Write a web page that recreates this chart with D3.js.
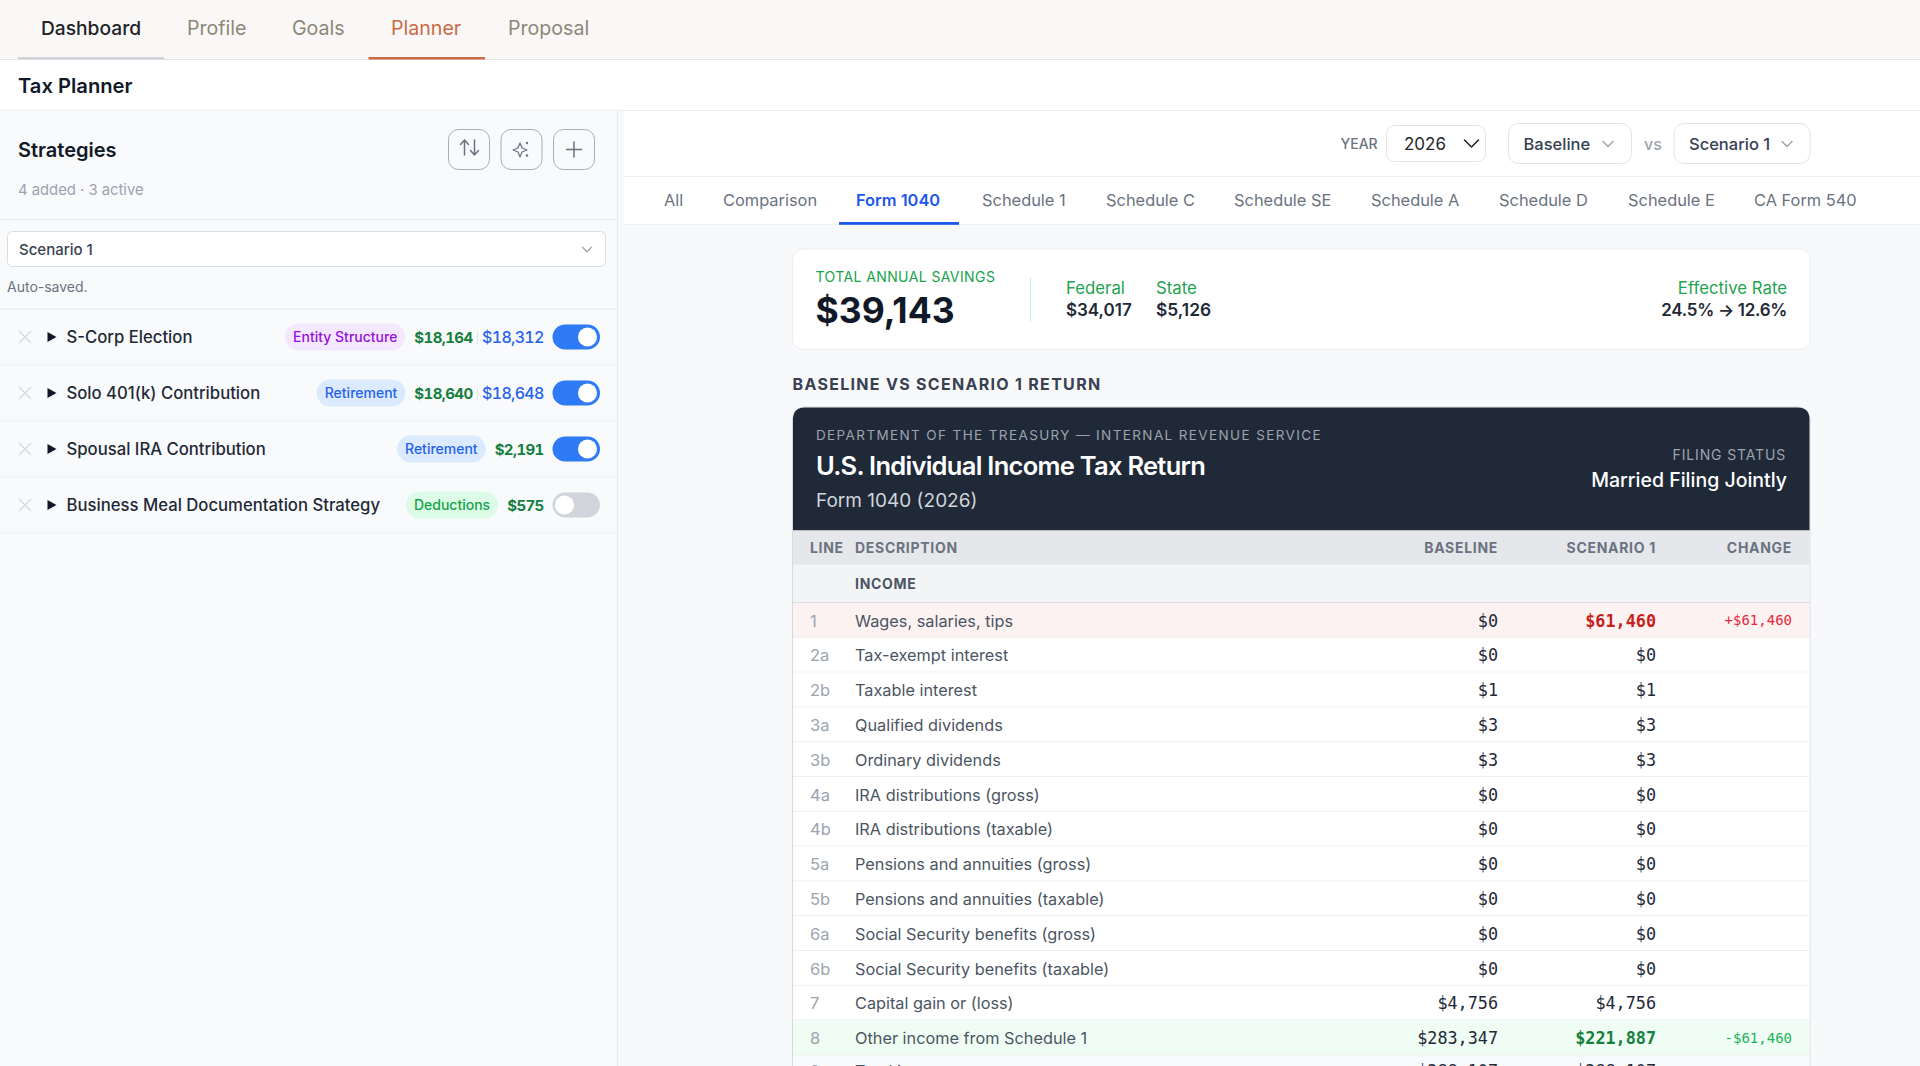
<!DOCTYPE html>
<html>
<head>
<meta charset="utf-8">
<script src="https://cdn.jsdelivr.net/npm/d3@7"></script>
<style>
  html, body { margin: 0; padding: 0; background: #f9fafb; overflow: hidden; }
  svg { display: block; }
  text { font-family: Inter, "Noto Sans", sans-serif; }
  .mono { font-family: "DejaVu Sans Mono", "Liberation Mono", monospace; }
  .amount { font-variant-numeric: tabular-nums; }
</style>
</head>
<body>
<svg id="page" width="1920" height="1066"></svg>
<script>
const navTabs = ['Dashboard', 'Profile', 'Goals', 'Planner', 'Proposal'];
const navTabX = [41, 187, 292, 391, 508];
const formTabs = ['All', 'Comparison', 'Form 1040', 'Schedule 1', 'Schedule C', 'Schedule SE', 'Schedule A', 'Schedule D', 'Schedule E', 'CA Form 540'];
const formTabX = [664, 723, 856, 982, 1106, 1234, 1371, 1499, 1628, 1754];

const strategyNames = ['S-Corp Election', 'Solo 401(k) Contribution', 'Spousal IRA Contribution', 'Business Meal Documentation Strategy'];
const strategyTags = ['Entity Structure', 'Retirement', 'Retirement', 'Deductions'];
const strategyFederal = ['$18,164', '$18,640', '$2,191', '$575'];
const strategyState = ['$18,312', '$18,648', '', ''];
const strategyOn = [true, true, true, false];

const lineNumbers = ['1', '2a', '2b', '3a', '3b', '4a', '4b', '5a', '5b', '6a', '6b', '7', '8', '9'];
const lineNames = ['Wages, salaries, tips', 'Tax-exempt interest', 'Taxable interest', 'Qualified dividends', 'Ordinary dividends',
  'IRA distributions (gross)', 'IRA distributions (taxable)', 'Pensions and annuities (gross)', 'Pensions and annuities (taxable)',
  'Social Security benefits (gross)', 'Social Security benefits (taxable)', 'Capital gain or (loss)', 'Other income from Schedule 1', 'Total income'];
const baselineValues = [0, 0, 1, 3, 3, 0, 0, 0, 0, 0, 0, 4756, 283347, 288107];
const scenarioValues = [61460, 0, 1, 3, 3, 0, 0, 0, 0, 0, 0, 4756, 221887, 288107];

const money = d3.format('$,');
const signedMoney = v => (v > 0 ? '+' : '-') + money(Math.abs(v));

const tagStyles = {
  'Entity Structure': { bg: '#f3e8ff', fg: '#9810e0' },
  'Retirement': { bg: '#dbeafe', fg: '#2563eb' },
  'Deductions': { bg: '#dcfce7', fg: '#16a34a' }
};

const svg = d3.select('#page');

const addRect = (x, y, w, h, fill, opts = {}) =>
  svg.append('rect')
    .attr('x', x).attr('y', y).attr('width', w).attr('height', h)
    .attr('rx', opts.r || 0)
    .attr('fill', fill)
    .attr('stroke', opts.stroke || 'none')
    .attr('stroke-width', opts.sw || 1);

const addText = (x, y, str, size, fill, opts = {}) =>
  svg.append('text')
    .attr('x', x).attr('y', y)
    .attr('font-size', size)
    .attr('font-weight', opts.weight || 400)
    .attr('letter-spacing', opts.spacing || 0)
    .attr('text-anchor', opts.anchor || 'start')
    .attr('class', opts.cls || null)
    .attr('fill', fill)
    .text(str);

const addPath = (d, stroke, sw, fill = 'none') =>
  svg.append('path').attr('d', d).attr('stroke', stroke).attr('stroke-width', sw)
    .attr('fill', fill).attr('stroke-linecap', 'round').attr('stroke-linejoin', 'round');

const chevron = (cx, cy, w, stroke, sw) =>
  addPath(`M${cx - w / 2},${cy - w / 4}L${cx},${cy + w / 4}L${cx + w / 2},${cy - w / 4}`, stroke, sw);

const drawNav = () => {
  addRect(0, 0, 1920, 60, '#f9f8f6');
  addRect(0, 59, 1920, 1, '#e7e5e1');
  addRect(18, 57, 146, 2.5, '#d1d5db');
  addRect(368.5, 57, 116.5, 2.5, '#c96a45');
  svg.selectAll('.nav-tab').data(navTabs).enter().append('text')
    .attr('class', 'nav-tab')
    .attr('x', (d, i) => navTabX[i]).attr('y', 35)
    .attr('font-size', (d, i) => (i === 0 ? 19.2 : 19.6)).attr('font-weight', (d, i) => (i === 0 ? 500 : 400))
    .attr('fill', (d, i) => (i === 0 ? '#1f2328' : i === 3 ? '#c96a45' : '#8c8778'))
    .text(d => d);
  addRect(0, 60, 1920, 50, '#ffffff');
  addRect(0, 110, 1920, 1, '#eeeff2');
  addText(18, 93, 'Tax Planner', 20.2, '#111827', { weight: 600 });
};

const drawSidebar = () => {
  addRect(617, 111, 1, 955, '#e8eaed');
  addText(18, 157, 'Strategies', 20, '#111827', { weight: 600 });
  [[448.5, 41], [501, 41], [553.5, 41]].forEach(([x, w]) =>
    addRect(x, 129.5, w, 40, '#f9fafb', { r: 10, stroke: '#a8adb7', sw: 1 }));
  // sort arrows
  addPath('M464.5,155V140M460.5,144.5L464.5,140L468.5,144.5', '#6b7280', 1.5);
  addPath('M474.5,140V155M470.5,150.5L474.5,155L478.5,150.5', '#6b7280', 1.5);
  // sparkle
  addPath('M520,143L522,148L527,150L522,152L520,157L518,152L513,150L518,148Z', '#6b7280', 1.2);
  svg.append('circle').attr('cx', 527).attr('cy', 143).attr('r', 1.2).attr('fill', '#6b7280');
  svg.append('circle').attr('cx', 527).attr('cy', 155.5).attr('r', 1.2).attr('fill', '#6b7280');
  // plus
  addPath('M574,142V157M566.5,149.5H581.5', '#6b7280', 1.5);
  addText(18, 195, '4 added · 3 active', 14.8, '#9ca3af');
  addRect(0, 219, 617, 1, '#e8eaed');
  addRect(7.5, 231.5, 598, 35, '#ffffff', { r: 5, stroke: '#d9dce1' });
  addText(19, 255, 'Scenario 1', 15, '#374151', { weight: 500 });
  chevron(587, 249.5, 9, '#9ca3af', 1.3);
  addText(7, 292, 'Auto-saved.', 14, '#6b7280');
  addRect(0, 308, 617, 2, '#f0f1f3');

  const rowY = d3.scaleLinear().domain([0, 1]).range([337, 393]);
  const rows = svg.selectAll('.strategy').data(strategyNames).enter().append('g')
    .attr('class', 'strategy')
    .attr('transform', (d, i) => `translate(0,${rowY(i)})`);

  rows.append('line').attr('x1', 0).attr('x2', 617).attr('y1', 28).attr('y2', 28).attr('stroke', '#f0f1f3');
  rows.append('path').attr('d', 'M-6,-6L6,6M6,-6L-6,6').attr('transform', 'translate(25,0)')
    .attr('stroke', '#d8dade').attr('stroke-width', 1.4).attr('fill', 'none');
  rows.append('path').attr('d', 'M47.5,-5L56.5,0L47.5,5Z').attr('fill', '#111827');
  rows.append('text').attr('x', 66.5).attr('y', 6).attr('font-size', 16.7).attr('font-weight', 500)
    .attr('fill', '#1f2937').text(d => d);

  rows.each(function (d, i) {
    const row = d3.select(this);
    const state = strategyState[i];
    const on = strategyOn[i];
    // toggle
    row.append('rect').attr('x', 552.5).attr('y', -12.5).attr('width', 47.5).attr('height', 25).attr('rx', 12.5)
      .attr('fill', on ? '#2f7bf6' : '#d1d5db');
    row.append('circle').attr('cx', on ? 587.5 : 564.5).attr('cy', 0).attr('r', 9.5).attr('fill', '#ffffff');
    // amounts, right to left
    let right = 543.7;
    if (state) {
      row.append('text').attr('class', 'amount').attr('x', right).attr('y', 6).attr('text-anchor', 'end').attr('font-size', 16)
        .attr('letter-spacing', -0.7).attr('font-weight', 500).attr('fill', '#2563eb').text(state);
      row.append('line').attr('x1', 477.5).attr('x2', 477.5).attr('y1', -6).attr('y2', 7).attr('stroke', '#e5e7eb');
      right = 472.5;
    }
    const fed = row.append('text').attr('class', 'amount').attr('x', right).attr('y', 6).attr('text-anchor', 'end').attr('font-size', 15)
      .attr('letter-spacing', -0.6).attr('font-weight', 700).attr('fill', '#15803d').text(strategyFederal[i]);
    const fedLeft = right - fed.node().getComputedTextLength();
    // tag pill
    const tag = strategyTags[i];
    const style = tagStyles[tag];
    const label = row.append('text').attr('y', 5).attr('font-size', 14).attr('font-weight', 500)
      .attr('fill', style.fg).text(tag);
    const pillW = label.node().getComputedTextLength() + 16;
    const pillRight = fedLeft - 9;
    row.insert('rect', 'text').attr('x', pillRight - pillW).attr('y', -13.5).attr('width', pillW).attr('height', 27)
      .attr('rx', 13.5).attr('fill', style.bg);
    label.attr('x', pillRight - pillW + 8);
  });
};

const drawToolbar = () => {
  addRect(624, 111, 1296, 114, '#ffffff');
  addRect(618, 111, 6, 955, '#f8f9fb');
  addRect(624, 225, 1296, 841, '#f8f9fb');
  addRect(624, 176, 1296, 1, '#eceef1');
  addRect(624, 224, 1296, 1, '#eff0f3');

  addText(1340.5, 149, 'YEAR', 14, '#6b7280', { weight: 500 });
  addRect(1386.5, 125.5, 99, 36, '#ffffff', { r: 8, stroke: '#e3e5e9' });
  addText(1404, 150, '2026', 17, '#27272a');
  chevron(1471.5, 143.5, 14, '#27272a', 1.6);
  addRect(1508.5, 123.5, 123, 40, '#ffffff', { r: 10, stroke: '#e3e5e9' });
  addText(1523.5, 149.5, 'Baseline', 16.5, '#374151', { weight: 500 });
  chevron(1608, 144, 10, '#9ca3af', 1.4);
  addText(1644, 149.5, 'vs', 16, '#9ca3af', { weight: 500 });
  addRect(1674, 123.5, 136, 40, '#ffffff', { r: 10, stroke: '#e3e5e9' });
  addText(1689, 149.5, 'Scenario 1', 16.5, '#374151', { weight: 500 });
  chevron(1787, 144, 10, '#9ca3af', 1.4);

  svg.selectAll('.form-tab').data(formTabs).enter().append('text')
    .attr('class', 'form-tab')
    .attr('x', (d, i) => formTabX[i]).attr('y', 205.5)
    .attr('font-size', 16.4).attr('font-weight', (d, i) => (i === 2 ? 600 : 400))
    .attr('fill', (d, i) => (i === 2 ? '#1d58e8' : '#6b7280'))
    .text(d => d);
  addRect(839, 222, 120, 2.8, '#1d58e8');
};

const drawSavings = () => {
  addRect(792.5, 249, 1017.5, 100.5, '#ffffff', { r: 10, stroke: '#ebedf0' });
  addText(815.5, 281.5, 'TOTAL ANNUAL SAVINGS', 14, '#16a34a', { spacing: 0.4 });
  addText(815.5, 323, '$39,143', 35.5, '#111827', { weight: 700 });
  addRect(1030, 277, 1, 45, '#bbf7d0');
  addText(1066, 294, 'Federal', 16.8, '#1fa34f');
  addText(1066, 316, '$34,017', 17, '#1f2937', { weight: 600 });
  addText(1156, 294, 'State', 16.8, '#1fa34f');
  addText(1156, 316, '$5,126', 17.4, '#1f2937', { weight: 600 });
  addText(1787, 294, 'Effective Rate', 16.8, '#1fa34f', { anchor: 'end' });
  addText(1787, 316, '24.5% → 12.6%', 17, '#1f2937', { weight: 600, anchor: 'end', spacing: -0.3 });
  addText(792.5, 390, 'BASELINE VS SCENARIO 1 RETURN', 16, '#374151', { weight: 700, spacing: 1.3 });
};

const drawReturn = () => {
  const left = 793, right = 1809.5, top = 407.5;
  const x = { line: 810, desc: 855, base: 1498, scen: 1656, change: 1792 };
  addRect(left - 0.5, top - 0.5, right - left + 1, 700, '#ffffff', { r: 12, stroke: '#d6d9de' });
  svg.append('path')
    .attr('d', `M${left},530.5V${top + 12}Q${left},${top} ${left + 12},${top}H${right - 12}Q${right},${top} ${right},${top + 12}V530.5Z`)
    .attr('fill', '#1f2937');
  addText(816, 440, 'DEPARTMENT OF THE TREASURY — INTERNAL REVENUE SERVICE', 13.5, '#9ca3af', { spacing: 1.38 });
  addText(816, 474.5, 'U.S. Individual Income Tax Return', 25.5, '#ffffff', { weight: 600, spacing: -0.72 });
  addText(816, 506.5, 'Form 1040 (2026)', 19, '#d1d5db');
  addText(1786, 460, 'FILING STATUS', 14, '#9ca3af', { anchor: 'end', spacing: 0.85 });
  addText(1787, 487, 'Married Filing Jointly', 19.5, '#ffffff', { anchor: 'end', weight: 500 });

  addRect(left, 530.5, right - left, 33, '#e5e7eb');
  addRect(left, 563.5, right - left, 1, '#d1d5db');
  const head = { weight: 700, spacing: 0.7 };
  addText(x.line, 552.5, 'LINE', 14, '#6b7280', head);
  addText(x.desc, 552.5, 'DESCRIPTION', 14, '#6b7280', head);
  addText(x.base, 552.5, 'BASELINE', 14, '#6b7280', { ...head, anchor: 'end' });
  addText(x.scen, 552.5, 'SCENARIO 1', 14, '#6b7280', { ...head, anchor: 'end' });
  addText(x.change, 552.5, 'CHANGE', 14, '#6b7280', { ...head, anchor: 'end' });

  addRect(left, 564.5, right - left, 38, '#f3f4f6');
  addRect(left, 602, right - left, 1, '#d9dce1');
  addText(x.desc, 588.5, 'INCOME', 14, '#4b5563', head);

  const rowTop = d3.scaleLinear().domain([0, 12]).range([603, 1020.6]);
  const rowH = rowTop(1) - rowTop(0);
  const rows = svg.selectAll('.form-row').data(lineNumbers).enter().append('g')
    .attr('class', 'form-row')
    .attr('transform', (d, i) => `translate(0,${rowTop(i)})`);

  const delta = i => scenarioValues[i] - baselineValues[i];
  const total = i => lineNumbers[i] === '9';
  const base = i => rowH / 2 + (total(i) ? 4 : 6.3);

  rows.append('rect').attr('x', left).attr('width', right - left).attr('height', rowH)
    .attr('fill', (d, i) => (total(i) ? '#f9fafb' : delta(i) > 0 ? '#fdf2f2' : delta(i) < 0 ? '#f0fdf4' : '#ffffff'));
  rows.append('line').attr('x1', left).attr('x2', right).attr('y1', rowH - 0.5).attr('y2', rowH - 0.5)
    .attr('stroke', '#eceef1');
  rows.append('text').attr('x', x.line).attr('y', (d, i) => base(i)).attr('font-size', 16.5).attr('fill', '#9ca3af').text(d => d);
  rows.append('text').attr('x', x.desc).attr('y', (d, i) => base(i)).attr('font-size', 16.3).attr('fill', '#4b5563')
    .text((d, i) => lineNames[i]);
  rows.append('text').attr('class', 'mono').attr('x', x.base).attr('y', (d, i) => base(i)).attr('text-anchor', 'end')
    .attr('font-size', 16.8).attr('fill', '#1f2937').text((d, i) => money(baselineValues[i]));
  rows.append('text').attr('class', 'mono').attr('x', x.scen).attr('y', (d, i) => base(i)).attr('text-anchor', 'end')
    .attr('font-size', 16.8)
    .attr('font-weight', (d, i) => (delta(i) !== 0 ? 700 : 400))
    .attr('fill', (d, i) => (delta(i) > 0 ? '#c81e1e' : delta(i) < 0 ? '#15803d' : '#1f2937'))
    .text((d, i) => money(scenarioValues[i]));
  rows.append('text').attr('class', 'mono').attr('x', x.change).attr('y', rowH / 2 + 5).attr('text-anchor', 'end')
    .attr('font-size', 14)
    .attr('fill', (d, i) => (delta(i) > 0 ? '#e5293a' : '#22b35a'))
    .text((d, i) => (delta(i) !== 0 ? signedMoney(delta(i)) : ''));
};

drawToolbar();
drawNav();
drawSidebar();
drawSavings();
drawReturn();
</script>
</body>
</html>
